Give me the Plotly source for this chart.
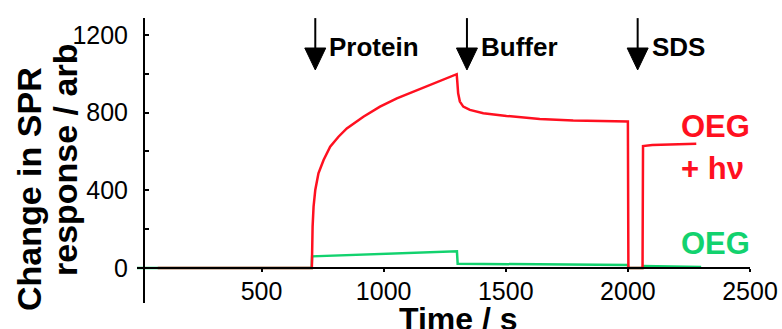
import plotly.graph_objects as go

# ---------------- data ----------------
red_t = [75, 706, 709, 713, 720, 733, 754, 781, 815, 849, 917, 985, 1054, 1121, 1190, 1258, 1299,
         1301, 1305, 1312, 1326, 1353, 1408, 1503, 1639, 1776, 1966, 2000,
         2002, 2060, 2062, 2100, 2280]
red_v = [0, 0, 213, 316, 402, 488, 556, 625, 676, 719, 779, 831, 874, 908, 942, 977, 998,
         968, 900, 857, 831, 814, 797, 783, 767, 760, 753, 755,
         0, 0, 628, 633, 640]

green_t = [-10, 705, 707, 1300, 1303, 1500, 2000, 2002, 2060, 2062, 2300]
green_v = [0, 0, 60, 86, 22, 20, 15, 0, 0, 10, 5]

event_labels = ["Protein", "Buffer", "SDS"]
event_times = [720, 1341, 2040]

x_tickvals = [500, 1000, 1500, 2000, 2500]
y_tickvals = [0, 200, 400, 600, 800, 1000, 1200]
y_ticktext = ["0", "", "400", "", "800", "", "1200"]

RED = "#FF1020"
GREEN = "#12D26E"
FONT = "Liberation Sans, Arial, sans-serif"

# ---------------- layout geometry (pixels) ----------------
W, H = 782, 329
L, R, T, B = 137, 32, 18, 26
PW, PH = W - L - R, H - T - B


def px(xp):
    return (xp - L) / PW


def py(yp):
    return (H - B - yp) / PH


fig = go.Figure()
fig.add_trace(go.Scatter(x=green_t, y=green_v, mode="lines",
                         line=dict(color=GREEN, width=2.5), showlegend=False))
fig.add_trace(go.Scatter(x=red_t, y=red_v, mode="lines",
                         line=dict(color=RED, width=2.5), showlegend=False))

shapes = []
for t in event_times:
    shapes.append(dict(type="line", xref="x", yref="y", x0=t, x1=t, y0=1287, y1=1120,
                       line=dict(color="black", width=2)))
    shapes.append(dict(type="path", xref="x", yref="y",
                       path=f"M {t-43},1133 L {t+43},1133 L {t},1020 Z",
                       fillcolor="black", line=dict(color="black", width=1)))

annotations = []
for lab, t in zip(event_labels, event_times):
    annotations.append(dict(text=f"<b>{lab}</b>", xref="x", x=t, xanchor="left", xshift=12,
                            yref="paper", y=py(47), yanchor="middle", showarrow=False,
                            font=dict(family=FONT, size=26, color="black")))

annotations += [
    dict(text="<b>Change in SPR</b>", textangle=-90, xref="paper", yref="paper",
         x=px(29), y=py(189), xanchor="center", yanchor="middle", showarrow=False,
         font=dict(family=FONT, size=34, color="black")),
    dict(text="<b>response / arb</b>", textangle=-90, xref="paper", yref="paper",
         x=px(65), y=py(160), xanchor="center", yanchor="middle", showarrow=False,
         font=dict(family=FONT, size=34, color="black")),
    dict(text="<b>Time / s</b>", xref="paper", yref="paper",
         x=px(458), y=py(319), xanchor="center", yanchor="middle", showarrow=False,
         font=dict(family=FONT, size=32, color="black")),
    dict(text="<b>OEG</b>", xref="paper", yref="paper",
         x=px(679), y=py(127), xanchor="left", yanchor="middle", showarrow=False,
         font=dict(family=FONT, size=31, color=RED)),
    dict(text="<b>+ hν</b>", xref="paper", yref="paper",
         x=px(679), y=py(168), xanchor="left", yanchor="middle", showarrow=False,
         font=dict(family=FONT, size=31, color=RED)),
    dict(text="<b>OEG</b>", xref="paper", yref="paper",
         x=px(679), y=py(243), xanchor="left", yanchor="middle", showarrow=False,
         font=dict(family=FONT, size=31, color=GREEN)),
]

fig.update_layout(
    width=W, height=H,
    margin=dict(l=L, r=R, t=T, b=B, pad=0, autoexpand=False),
    paper_bgcolor="white", plot_bgcolor="white",
    showlegend=False,
    shapes=shapes, annotations=annotations,
    xaxis=dict(range=[-10, 2500], domain=[0, 1], anchor="free", position=py(268),
               automargin=False,
               showline=True, linecolor="black", linewidth=2,
               ticks="outside", ticklen=3, tickwidth=2, tickcolor="black",
               tickvals=x_tickvals, tickfont=dict(family=FONT, size=25, color="black"),
               showgrid=False, zeroline=False, ticklabelstandoff=-2),
    yaxis=dict(range=[-180.3, 1287.5], domain=[0, 1], anchor="free", position=px(144),
               automargin=False,
               showline=True, linecolor="black", linewidth=2,
               ticks="inside", ticklen=4, tickwidth=2, tickcolor="black",
               tickvals=y_tickvals, ticktext=y_ticktext,
               tickfont=dict(family=FONT, size=25, color="black"),
               showgrid=False, zeroline=False, ticklabelstandoff=10),
)

fig.write_html("out.html", config={"displayModeBar": False},
               post_script="document.body.style.margin='0';document.body.style.overflow='hidden';")
